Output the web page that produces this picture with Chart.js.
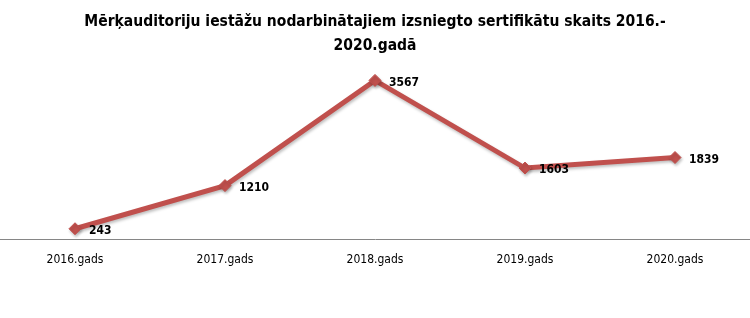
<!DOCTYPE html>
<html>
<head>
<meta charset="utf-8">
<script src="https://cdn.jsdelivr.net/npm/chart.js@4"></script>
<style>
html,body{margin:0;padding:0;background:#fff;}
#wrap{width:750px;height:318px;position:relative;}
</style>
</head>
<body>
<div id="wrap"><canvas id="c"></canvas></div>
<script>
const categories = ["2016.gads", "2017.gads", "2018.gads", "2019.gads", "2020.gads"];
const certificates = [243, 1210, 3567, 1603, 1839];
const titleLines = ["Mērķauditoriju iestāžu nodarbinātajiem izsniegto sertifikātu skaits 2016.-", "2020.gadā"];

const FONT = "'DejaVu Sans Condensed', sans-serif";

const labelPlugin = {
  id: 'valueLabels',
  afterDatasetsDraw(chart) {
    const ctx = chart.ctx;
    const meta = chart.getDatasetMeta(0);
    ctx.save();
    ctx.font = "bold 12px " + FONT;
    ctx.fillStyle = "#000";
    ctx.textAlign = "left";
    ctx.textBaseline = "middle";
    meta.data.forEach((pt, i) => {
      ctx.fillText(String(chart.data.datasets[0].data[i]), pt.x + 14, pt.y + 2);
    });
    ctx.restore();
  }
};

const shadowPlugin = {
  id: 'shadow',
  beforeDatasetsDraw(chart) {
    const ctx = chart.ctx;
    ctx.save();
    ctx.shadowColor = "rgba(0,0,0,0.25)";
    ctx.shadowBlur = 3;
    ctx.shadowOffsetX = 1;
    ctx.shadowOffsetY = 2;
  },
  afterDatasetsDraw(chart) {
    chart.ctx.restore();
  }
};

new Chart(document.getElementById('c'), {
  type: 'line',
  data: {
    labels: categories,
    datasets: [{
      data: certificates,
      borderColor: '#C0504D',
      backgroundColor: '#C0504D',
      borderWidth: 5,
      pointStyle: 'rectRot',
      pointRadius: 6,
      pointHoverRadius: 6,
      pointBorderWidth: 1,
      tension: 0,
      fill: false
    }]
  },
  options: {
    responsive: true,
    maintainAspectRatio: false,
    animation: false,
    layout: { autoPadding: false, padding: { left: 0, right: 0, top: 0, bottom: 38 } },
    plugins: {
      legend: { display: false },
      tooltip: { enabled: false },
      title: {
        display: true,
        text: titleLines,
        color: '#000',
        font: { family: FONT, size: 15.5, weight: 'bold', lineHeight: 1.55 },
        padding: { top: 10, bottom: 3 }
      }
    },
    scales: {
      x: {
        offset: true,
        grid: { display: false, drawTicks: false },
        border: { display: true, color: '#868686', width: 1 },
        ticks: { color: '#000', font: { family: FONT, size: 12 }, padding: 13, maxRotation: 0 }
      },
      y: {
        display: false,
        min: 0,
        max: 4000
      }
    }
  },
  plugins: [shadowPlugin, labelPlugin]
});
</script>
</body>
</html>
